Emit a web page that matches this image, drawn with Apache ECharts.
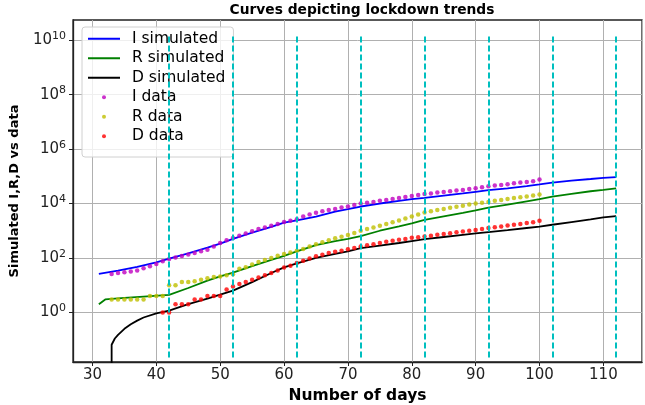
<!DOCTYPE html>
<html>
<head>
<meta charset="utf-8">
<script src="https://cdn.jsdelivr.net/npm/echarts@6/dist/echarts.min.js"></script>
<style>
html, body { margin: 0; padding: 0; background: #fff; }
#chart { width: 645px; height: 405px; }
</style>
</head>
<body>
<div id="chart"></div>
<script>
// simulated curves (model output)
var simIDays = [31,34,37,40,42,45,48,50,52,55,58,60,62,65,68,70,72,75,78,80,82,85,88,90,92,95,98,100,102,105,108,110,112];
var simIVals = [26,34,47,69,95,148,240,339,501,851,1380,2000,2400,3310,5010,6170,7760,10000,12600,14450,16200,19500,23400,26900,30900,36300,43650,50100,58900,69200,79400,87100,93300];

var simRDays = [31,32,35,38,42,45,48,50,52,55,58,60,62,65,68,70,72,75,78,80,82,85,88,90,92,95,98,100,102,105,108,110,112];
var simRVals = [2.0,3.0,3.4,3.8,4.4,7.9,14.8,20.9,28.8,50,85,120,174,295,417,501,631,1000,1445,1862,2512,3388,4571,5623,7079,9120,12000,14450,17800,22400,28200,31600,36300];

var simDDays = [33,33,33.5,34,35,36,37,38,40,42,45,48,50,52,55,58,60,62,65,68,70,72,75,78,80,82,85,88,90,92,95,98,100,102,105,108,110,112];
var simDVals = [0.001,0.065,0.11,0.15,0.25,0.37,0.5,0.65,0.93,1.17,2.0,3.2,4.5,6.3,13,28,45,63,100,141,174,229,282,355,417,490,589,708,794,891,1047,1259,1413,1660,2089,2630,3090,3467];

// observed data, one value per day
var dataIStart = 33;
var dataI = [26,28,30,32,35,42,50,60,76,91,105,117,135,151,178,200,263,355,447,537,661,794,955,1148,1318,1514,1778,2089,2344,2630,3311,3981,4571,5248,5754,6310,7079,7762,8913,10000,10715,11482,12589,13490,14791,15849,17378,19055,20417,22387,23442,25119,26303,28184,30200,31623,33884,36308,39811,42658,45709,47863,51286,54954,58884,61660,66069,75858];

var dataRStart = 33;
var dataR = [3,3,3,3,3,3,4,4,4,10,10,13,13,14,16,18,20,21,23,25,40,46,58,71,85,100,120,141,158,186,214,263,316,380,447,525,603,692,832,1000,1148,1318,1514,1778,2042,2399,2818,3311,3981,4677,5248,5754,6310,6918,7586,8318,9120,10000,10715,11482,12589,13490,14791,15849,16982,18197,19498,21380];

var dataDStart = 41;
var dataD = [1,1,2,2,2,3,3,4,4,4,7,9,11,13,16,19,23,28,35,45,52,66,79,95,115,132,151,170,186,209,234,263,295,316,355,398,427,468,501,550,575,617,661,708,759,813,871,933,1000,1072,1148,1259,1349,1445,1549,1660,1778,1905,2042,2344];

// lockdown phase boundaries
var phaseDays = [42,52,62,72,82,92,102,112];
var phaseLow = 0.022;
var phaseHigh = 1.4e10;

// y ticks every two decades
var yTicks = [1, 1e2, 1e4, 1e6, 1e8, 1e10];

function pairs(days, vals) {
	return vals.map(function(v, i) { return [days[i], v]; });
}
function daily(start, vals) {
	return vals.map(function(v, i) { return [start + i, v]; });
}

var chart = echarts.init(document.getElementById('chart'));
var font = 'DejaVu Sans';
var hideMark = { opacity: 0 };

var option = {
	animation: false,
	textStyle: { fontFamily: font },
	title: {
		text: 'Curves depicting lockdown trends',
		left: 357, top: 0, padding: [3, 5], textAlign: 'center',
		textStyle: { fontFamily: font, fontWeight: 'bold', fontSize: 13.8, color: '#000' }
	},
	legend: {
		left: 82, top: 27, orient: 'vertical',
		padding: [3, 8, 12, 5],
		itemWidth: 32, itemHeight: 4, itemGap: 2,
		backgroundColor: 'rgba(255,255,255,0.8)',
		borderColor: '#d0d0d0', borderWidth: 1, borderRadius: 3,
		textStyle: { fontFamily: font, fontSize: 15.5, lineHeight: 17.5, color: '#000', padding: [0, 0, 0, 7] },
		data: [
			{ name: 'I simulated', itemStyle: hideMark },
			{ name: 'R simulated', itemStyle: hideMark },
			{ name: 'D simulated', itemStyle: hideMark },
			'I data', 'R data', 'D data'
		]
	},
	grid: {
		left: 73, right: 3, top: 20, bottom: 43,
		outerBoundsMode: 'none',
		show: true, borderColor: '#222', borderWidth: 1.3, backgroundColor: 'transparent'
	},
	xAxis: {
		type: 'value', min: 26.95, max: 116.05, splitNumber: 9,
		name: 'Number of days', nameLocation: 'middle', nameGap: 26,
		nameTextStyle: { fontFamily: font, fontWeight: 'bold', fontSize: 15.5, color: '#000' },
		axisLine: { show: true, lineStyle: { color: '#222', width: 1.3 } },
		axisTick: { show: true, inside: false, length: 4, lineStyle: { color: '#222' } },
		splitLine: { show: true, lineStyle: { color: '#b0b0b0', width: 1 } },
		axisLabel: {
			showMinLabel: false, showMaxLabel: false, margin: 6,
			fontFamily: font, fontSize: 15, color: '#222',
			formatter: function(v) { return Math.abs(v % 10) < 1e-6 ? String(v) : ''; }
		}
	},
	yAxis: {
		type: 'log', logBase: 10, min: 0.0151, max: 5.5e10,
		name: 'Simulated I,R,D vs data', nameLocation: 'middle', nameGap: 52,
		nameTextStyle: { fontFamily: font, fontWeight: 'bold', fontSize: 13, color: '#000' },
		axisLine: { show: true, lineStyle: { color: '#222', width: 1.3 } },
		axisTick: { show: true, inside: false, length: 4, customValues: yTicks, lineStyle: { color: '#222' } },
		splitLine: { show: true, lineStyle: { color: '#b0b0b0', width: 1 } },
		axisLabel: {
			margin: 7, customValues: yTicks,
			fontFamily: font, color: '#222',
			formatter: function(v) {
				var r = Math.round(Math.log10(v));
				return '{a|10}{b|' + r + '}';
			},
			rich: {
				a: { fontFamily: font, fontSize: 15, color: '#222' },
				b: { fontFamily: font, fontSize: 11, color: '#222', padding: [0, 0, 8, 0] }
			}
		}
	},
	series: [
		{ name: 'I simulated', type: 'line', data: pairs(simIDays, simIVals), showSymbol: false, symbol: 'none', lineStyle: { color: '#0000ff', width: 1.8 }, itemStyle: { color: '#0000ff' }, z: 3 },
		{ name: 'R simulated', type: 'line', data: pairs(simRDays, simRVals), showSymbol: false, symbol: 'none', lineStyle: { color: '#008000', width: 1.8 }, itemStyle: { color: '#008000' }, z: 3 },
		{ name: 'D simulated', type: 'line', data: pairs(simDDays, simDVals), showSymbol: false, symbol: 'none', lineStyle: { color: '#000000', width: 1.8 }, itemStyle: { color: '#000000' }, z: 3 },
		{ name: 'I data', type: 'scatter', data: daily(dataIStart, dataI), symbolSize: 4.5, itemStyle: { color: '#bf00bf' }, z: 4 },
		{ name: 'R data', type: 'scatter', data: daily(dataRStart, dataR), symbolSize: 4.5, itemStyle: { color: '#bfbf00' }, z: 4 },
		{ name: 'D data', type: 'scatter', data: daily(dataDStart, dataD), symbolSize: 4.5, itemStyle: { color: '#ff0000' }, z: 4 },
		{
			name: 'phases', type: 'line', data: [], z: 2,
			markLine: {
				silent: true, symbol: 'none', label: { show: false },
				lineStyle: { color: '#00bfbf', width: 2, type: [6, 3] },
				data: phaseDays.map(function(d) { return [{ coord: [d, phaseLow] }, { coord: [d, phaseHigh] }]; })
			}
		}
	]
};
chart.setOption(option);
</script>
</body>
</html>
